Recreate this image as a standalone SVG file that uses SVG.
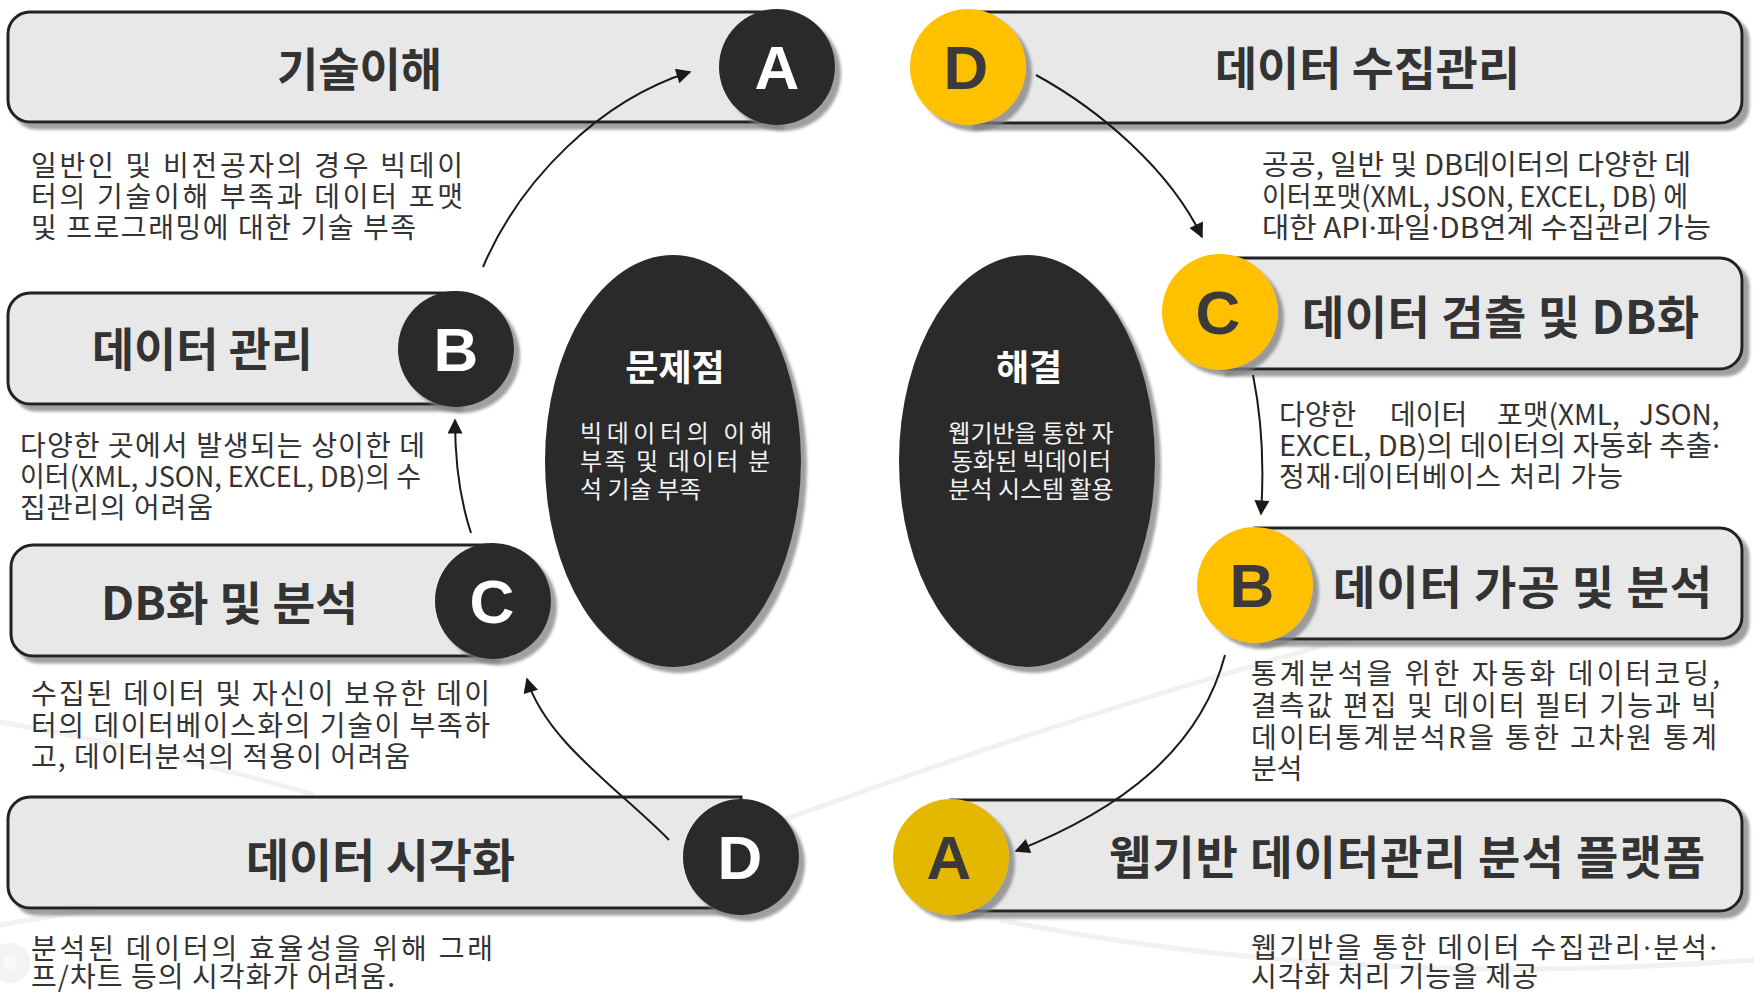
<svg xmlns="http://www.w3.org/2000/svg" width="1754" height="993" viewBox="0 0 1754 993">
<defs>
<style>
.bar{fill:#e8e8e8;stroke:#222;stroke-width:3;filter:url(#sh)}
.dk{fill:#2a2a2a;filter:url(#sh)}
.yl{fill:#FFC000;filter:url(#sh)}
.ya{fill:#E5B800;filter:url(#sh)}
.ttl{font-family:"Noto Sans CJK KR","Noto Sans",sans-serif;font-weight:700;font-size:46px;fill:#333}
.let{font-family:"Liberation Sans",Arial,sans-serif;font-weight:700;font-size:62px;text-anchor:middle}
.lw{fill:#fff}.ld{fill:#3a3a3a}
.ds{font-family:"Noto Sans CJK KR","Noto Sans",sans-serif;font-size:28px;fill:#333}
.dot{font-family:"Noto Sans","DejaVu Sans",sans-serif}
.et{font-family:"Noto Sans CJK KR","Noto Sans",sans-serif;font-weight:700;font-size:36px;fill:#fff;text-anchor:middle}
.eb{font-family:"Noto Sans CJK KR","Noto Sans",sans-serif;font-size:24px;fill:#f2f2f2}
.cn{fill:none;stroke:#1a1a1a;stroke-width:2;marker-end:url(#ah)}
.bg{fill:none;stroke:#f1f1f1;stroke-width:5}
</style>
<filter id="sh" x="-10%" y="-10%" width="125%" height="130%">
<feDropShadow dx="6" dy="6" stdDeviation="1.5" flood-color="#808080" flood-opacity="0.75"/>
</filter>
<marker id="ah" viewBox="0 0 10 10" refX="9" refY="5" markerUnits="userSpaceOnUse" markerWidth="19" markerHeight="15" orient="auto">
<path d="M0,0 L10,5 L0,10 Z" fill="#1a1a1a"/>
</marker>
</defs>
<rect width="1754" height="993" fill="#fff"/>
<g id="background">
<path class="bg" d="M0,722 Q160,750 315,795"/>
<path class="bg" d="M0,925 Q120,905 240,880"/>
<path class="bg" d="M783,820 Q1250,650 1740,540"/>
<path class="bg" d="M1000,920 Q1350,990 1754,960"/>
<circle cx="10" cy="963" r="20" fill="#f3f3f3"/>
<circle cx="10" cy="963" r="7" fill="#fafafa"/>
</g>
<g id="problem">
<ellipse class="dk" cx="673" cy="461" rx="128" ry="206"/>
<text class="et" x="675" y="381">문제점</text>
<text class="eb" x="580" y="442" textLength="192" lengthAdjust="spacing">빅데이터의 이해</text>
<text class="eb" x="580" y="470" textLength="190" lengthAdjust="spacing">부족 및 데이터 분</text>
<text class="eb" x="580" y="498">석 기술 부족</text>
</g>
<g id="solution">
<ellipse class="dk" cx="1027" cy="461" rx="128" ry="206"/>
<text class="et" x="1029" y="381">해결</text>
<text class="eb" x="1031" y="442" text-anchor="middle">웹기반을 통한 자</text>
<text class="eb" x="1031" y="470" text-anchor="middle">동화된 빅데이터</text>
<text class="eb" x="1031" y="498" text-anchor="middle">분석 시스템 활용</text>
</g>
<g id="left-a">
<path class="bar" d="M777,12 H30 A22,22 0 0 0 8,34 V100 A22,22 0 0 0 30,122 H777 Z"/>
<circle class="dk" cx="777" cy="67" r="58"/>
<text class="let lw" x="777" y="89">A</text>
<text class="ttl" x="277" y="86" textLength="165" lengthAdjust="spacingAndGlyphs">기술이해</text>
<text class="ds" x="31" y="176" textLength="432" lengthAdjust="spacing">일반인 및 비전공자의 경우 빅데이</text>
<text class="ds" x="31" y="207" textLength="432" lengthAdjust="spacing">터의 기술이해 부족과 데이터 포맷</text>
<text class="ds" x="31" y="238" textLength="385" lengthAdjust="spacing">및 프로그래밍에 대한 기술 부족</text>
</g>
<g id="left-b">
<path class="bar" d="M456,293 H30 A22,22 0 0 0 8,315 V382 A22,22 0 0 0 30,404 H456 Z"/>
<circle class="dk" cx="456" cy="349" r="58"/>
<text class="let lw" x="456" y="371">B</text>
<text class="ttl" x="92" y="366" textLength="221" lengthAdjust="spacingAndGlyphs">데이터 관리</text>
<text class="ds" x="20" y="456" textLength="405" lengthAdjust="spacing">다양한 곳에서 발생되는 상이한 데</text>
<text class="ds" x="20" y="487" textLength="401" lengthAdjust="spacingAndGlyphs">이터(XML, JSON, EXCEL, DB)의 수</text>
<text class="ds" x="20" y="518" textLength="193" lengthAdjust="spacing">집관리의 어려움</text>
</g>
<g id="left-c">
<path class="bar" d="M493,545 H33 A22,22 0 0 0 11,567 V634 A22,22 0 0 0 33,656 H493 Z"/>
<circle class="dk" cx="493" cy="601" r="58"/>
<text class="let lw" x="492" y="623">C</text>
<text class="ttl" x="101" y="620" textLength="257" lengthAdjust="spacingAndGlyphs">DB화 및 분석</text>
<text class="ds" x="31" y="704" textLength="459" lengthAdjust="spacing">수집된 데이터 및 자신이 보유한 데이</text>
<text class="ds" x="31" y="736" textLength="459" lengthAdjust="spacing">터의 데이터베이스화의 기술이 부족하</text>
<text class="ds" x="31" y="767" textLength="379" lengthAdjust="spacing">고, 데이터분석의 적용이 어려움</text>
</g>
<g id="left-d">
<path class="bar" d="M741,797 H30 A22,22 0 0 0 8,819 V886 A22,22 0 0 0 30,908 H741 Z"/>
<circle class="dk" cx="741" cy="857" r="58"/>
<text class="let lw" x="740" y="879">D</text>
<text class="ttl" x="246" y="877" textLength="269" lengthAdjust="spacingAndGlyphs">데이터 시각화</text>
<text class="ds" x="31" y="959" textLength="462" lengthAdjust="spacing">분석된 데이터의 효율성을 위해 그래</text>
<text class="ds" x="31" y="987" textLength="364" lengthAdjust="spacing">프/차트 등의 시각화가 어려움.</text>
</g>
<g id="right-d">
<path class="bar" d="M968,12 H1720 A22,22 0 0 1 1742,34 V101 A22,22 0 0 1 1720,123 H968 Z"/>
<circle class="yl" cx="968" cy="67" r="58"/>
<text class="let ld" x="966" y="89">D</text>
<text class="ttl" x="1215" y="85" textLength="305" lengthAdjust="spacingAndGlyphs">데이터 수집관리</text>
<text class="ds" x="1262" y="175" textLength="429" lengthAdjust="spacingAndGlyphs">공공, 일반 및 DB데이터의 다양한 데</text>
<text class="ds" x="1262" y="207" textLength="426" lengthAdjust="spacingAndGlyphs">이터포맷(XML, JSON, EXCEL, DB) 에</text>
<text class="ds" x="1262" y="238" textLength="449" lengthAdjust="spacingAndGlyphs">대한 API<tspan class="dot">·</tspan>파일<tspan class="dot">·</tspan>DB연계 수집관리 가능</text>
</g>
<g id="right-c">
<path class="bar" d="M1220,258 H1720 A22,22 0 0 1 1742,280 V347 A22,22 0 0 1 1720,369 H1220 Z"/>
<circle class="yl" cx="1220" cy="312" r="58"/>
<text class="let ld" x="1218" y="334">C</text>
<text class="ttl" x="1302" y="334" textLength="397" lengthAdjust="spacing">데이터 검출 및 DB화</text>
<text class="ds" y="425"><tspan x="1279">다양한</tspan><tspan x="1390">데이터</tspan><tspan x="1497">포맷(XML,</tspan><tspan x="1639">JSON,</tspan></text>
<text class="ds" x="1279" y="456" textLength="441" lengthAdjust="spacingAndGlyphs">EXCEL, DB)의 데이터의 자동화 추출<tspan class="dot">·</tspan></text>
<text class="ds" x="1279" y="487" textLength="344" lengthAdjust="spacing">정재<tspan class="dot">·</tspan>데이터베이스 처리 가능</text>
</g>
<g id="right-b">
<path class="bar" d="M1255,528 H1720 A22,22 0 0 1 1742,550 V617 A22,22 0 0 1 1720,639 H1255 Z"/>
<circle class="yl" cx="1255" cy="585" r="58"/>
<text class="let ld" x="1252" y="607">B</text>
<text class="ttl" x="1333" y="604" textLength="379" lengthAdjust="spacing">데이터 가공 및 분석</text>
<text class="ds" x="1251" y="684" textLength="469" lengthAdjust="spacing">통계분석을 위한 자동화 데이터코딩,</text>
<text class="ds" x="1251" y="716" textLength="466" lengthAdjust="spacing">결측값 편집 및 데이터 필터 기능과 빅</text>
<text class="ds" x="1251" y="748" textLength="466" lengthAdjust="spacing">데이터통계분석R을 통한 고차원 통계</text>
<text class="ds" x="1251" y="779">분석</text>
</g>
<g id="right-a">
<path class="bar" d="M951,800 H1720 A22,22 0 0 1 1742,822 V889 A22,22 0 0 1 1720,911 H951 Z"/>
<circle class="ya" cx="951" cy="857" r="58"/>
<text class="let ld" x="949" y="879">A</text>
<text class="ttl" x="1109" y="874" textLength="596" lengthAdjust="spacing">웹기반 데이터관리 분석 플랫폼</text>
<text class="ds" x="1251" y="958" textLength="466" lengthAdjust="spacing">웹기반을 통한 데이터 수집관리<tspan class="dot">·</tspan>분석<tspan class="dot">·</tspan></text>
<text class="ds" x="1251" y="987" textLength="287" lengthAdjust="spacing">시각화 처리 기능을 제공</text>
</g>
<g id="connectors">
<path class="cn" d="M483,267 C520,180 600,100 690,72"/>
<path class="cn" d="M471,533 C460,500 455,460 455,420"/>
<path class="cn" d="M669,840 C620,790 545,740 527,679"/>
<path class="cn" d="M1036,75 C1100,110 1170,170 1202,237"/>
<path class="cn" d="M1253,375 C1262,420 1264,470 1261,514"/>
<path class="cn" d="M1225,655 C1200,750 1120,810 1016,851"/>
</g>
</svg>
